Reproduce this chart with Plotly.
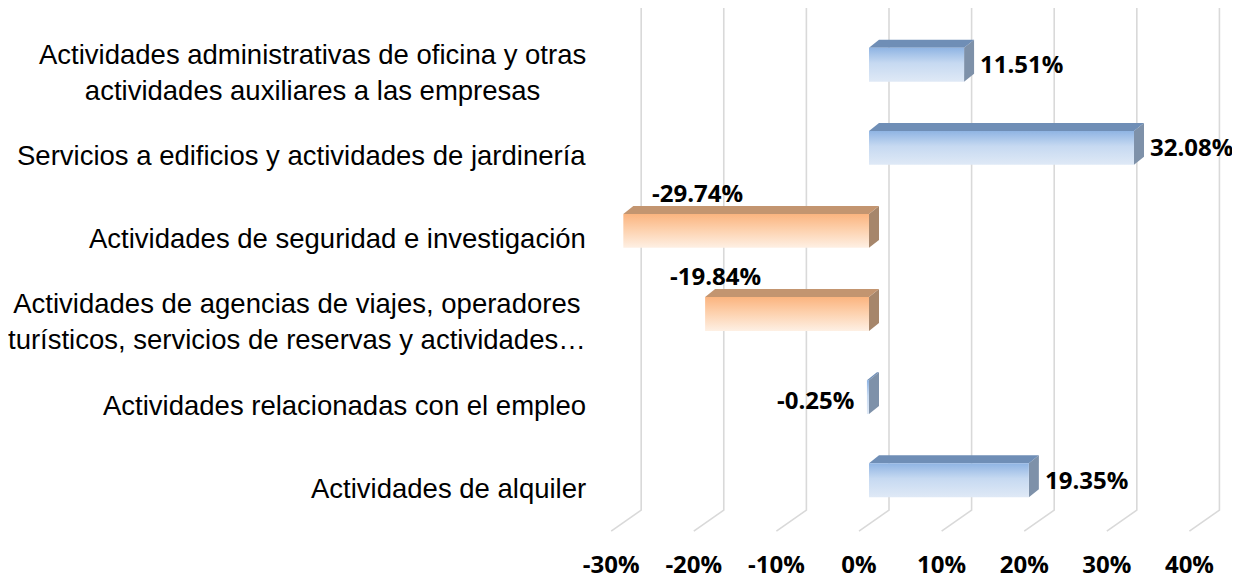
import plotly.graph_objects as go

categories = [
    "Actividades administrativas de oficina y otras<br>actividades auxiliares a las empresas",
    "Servicios a edificios y actividades de jardinería",
    "Actividades de seguridad e investigación",
    "Actividades de agencias de viajes, operadores<br>turísticos, servicios de reservas y actividades…",
    "Actividades relacionadas con el empleo",
    "Actividades de alquiler",
]
values = [11.51, 32.08, -29.74, -19.84, -0.25, 19.35]
bar_palette = ["blue", "blue", "orange", "orange", "blue", "blue"]
tick_vals = [-30, -20, -10, 0, 10, 20, 30, 40]
tick_text = ["-30%", "-20%", "-10%", "0%", "10%", "20%", "30%", "40%"]

# geometry / style
ypos = [5, 4, 3, 2, 1, 0]
FRONT_LO, FRONT_HI = -0.108, 0.30     # front face extent relative to category centre
DEPTH_X, DEPTH_Y = 1.21, 0.096        # 3D depth offset (data units)
GRID_BACK_DX, GRID_FRONT_DX = 2.42, -1.21
Y_TOP, Y_BOT = 5.779, -0.66
GRID_BOT, FLOOR_FRONT = -0.264, -0.516

styles = {
    "blue": dict(front=[[0, "#dfe9f6"], [0.55, "#c6d9f1"], [1, "#8fb4e3"]],
                 top="#6f8eb6", side="#7e91a9"),
    "orange": dict(front=[[0, "#fef0e4"], [0.55, "#fdd0ac"], [1, "#fbb47f"]],
                   top="#c39570", side="#a6866b"),
}

fig = go.Figure()

# back-wall gridlines with floor slant
for t in tick_vals:
    fig.add_trace(go.Scatter(
        x=[t + GRID_BACK_DX, t + GRID_BACK_DX, t + GRID_FRONT_DX],
        y=[Y_TOP, GRID_BOT, FLOOR_FRONT],
        mode="lines", line=dict(color="#d9d9d9", width=1.6),
        hoverinfo="skip", showlegend=False))

for v, y, pal in zip(values, ypos, bar_palette):
    st = styles[pal]
    lo, hi = min(v, 0), max(v, 0)
    y0, y1 = y + FRONT_LO, y + FRONT_HI
    # side face
    fig.add_trace(go.Scatter(
        x=[hi, hi, hi + DEPTH_X, hi + DEPTH_X, hi],
        y=[y0, y1, y1 + DEPTH_Y, y0 + DEPTH_Y, y0],
        fill="toself", fillcolor=st["side"], mode="lines", line=dict(width=0),
        hoverinfo="skip", showlegend=False))
    # top face
    fig.add_trace(go.Scatter(
        x=[lo, hi, hi + DEPTH_X, lo + DEPTH_X, lo],
        y=[y1, y1, y1 + DEPTH_Y, y1 + DEPTH_Y, y1],
        fill="toself", fillcolor=st["top"], mode="lines", line=dict(width=0),
        hoverinfo="skip", showlegend=False))
    # front face (gradient)
    fig.add_trace(go.Scatter(
        x=[lo, hi, hi, lo, lo], y=[y0, y0, y1, y1, y0],
        fill="toself", mode="lines", line=dict(width=0),
        fillgradient=dict(type="vertical", colorscale=st["front"]),
        hoverinfo="skip", showlegend=False))

label_font = dict(family="Open Sans, Arial, sans-serif", size=24,
                  color="#000000", weight="bold")
for v, y in zip(values, ypos):
    txt = f"{v:.2f}%"
    if v >= 0:
        fig.add_annotation(x=v + DEPTH_X, y=y, text=txt, showarrow=False,
                           xanchor="left", xshift=4, yshift=9, font=label_font)
    elif v > -5:
        fig.add_annotation(x=v, y=y, text=txt, showarrow=False,
                           xanchor="right", xshift=-11, yshift=6, font=label_font)
    else:
        fig.add_annotation(x=v, y=y, text=txt, showarrow=False,
                           xanchor="left", xshift=27 if v < -25 else -37,
                           yshift=46, font=label_font)

for c, y in zip(categories, ypos):
    fig.add_annotation(x=0, xref="paper", y=y, text=c, showarrow=False,
                       xanchor="right", xshift=-7, align="center",
                       font=dict(family="Liberation Sans, Arial, sans-serif",
                                 size=27.5, color="#000000"))

fig.update_layout(
    width=1232, height=572,
    margin=dict(l=587, r=10, t=0, b=35),
    paper_bgcolor="white", plot_bgcolor="white",
    showlegend=False,
    xaxis=dict(range=[-33.17, 43.7], tickvals=tick_vals, ticktext=tick_text,
               showgrid=False, zeroline=False, showline=False, ticks="",
               ticklabelshift=-10, ticklabelstandoff=5,
               tickfont=dict(family="Open Sans, Arial, sans-serif", size=24,
                             color="#000000", weight="bold")),
    yaxis=dict(range=[Y_BOT, Y_TOP], showgrid=False, zeroline=False,
               showline=False, showticklabels=False, ticks=""),
)

fig.write_html("out.html")
